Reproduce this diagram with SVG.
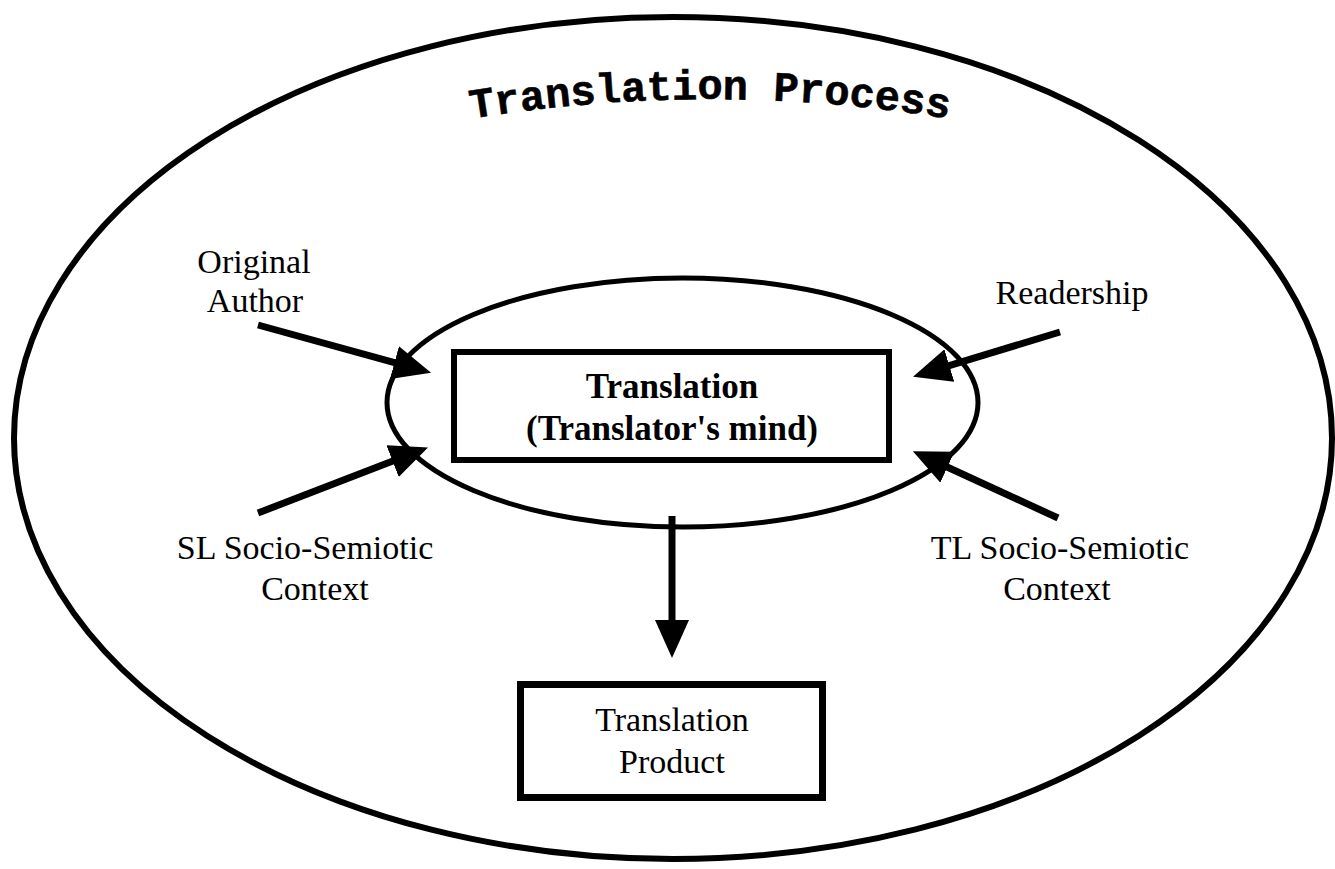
<svg xmlns="http://www.w3.org/2000/svg" width="1335" height="869" viewBox="0 0 1335 869">
<style>
.lbl{font-family:"Liberation Serif","Times New Roman",serif;font-size:34px;fill:#000;text-anchor:middle}
.b{font-weight:bold;font-size:35px}
.ttl{font-family:"Liberation Mono","Courier New",monospace;font-size:42px;font-weight:bold;fill:#000;stroke:#000;stroke-width:0.6}
.ln{fill:none;stroke:#000}
.arr{stroke:#000;stroke-width:7;fill:none}
</style>
<defs>
<marker id="ah" viewBox="0 0 38 34" refX="1" refY="17" markerWidth="38" markerHeight="34" markerUnits="userSpaceOnUse" orient="auto"><path d="M0,0 L38,17 L0,34 z" fill="#000"/></marker>
<path id="tp" d="M430,126 A1480,1480 0 0 1 990,126"/>
</defs>
<rect width="1335" height="869" fill="#fff"/>
<g id="process">
<ellipse class="ln" cx="673" cy="438" rx="659" ry="421" stroke-width="6"/>
<text class="ttl"><textPath href="#tp" startOffset="50%" text-anchor="middle">Translation Process</textPath></text>
</g>
<g id="mind-ellipse">
<ellipse class="ln" cx="682.5" cy="402.5" rx="295.5" ry="124.5" stroke-width="5"/>
</g>
<g id="translation">
<rect class="ln" x="454" y="352" width="435" height="108" stroke-width="6"/>
<text class="lbl b" x="672" y="398">Translation</text>
<text class="lbl b" x="672" y="440">(Translator's mind)</text>
</g>
<g id="product">
<rect class="ln" x="520.5" y="684.5" width="302" height="113" stroke-width="7"/>
<text class="lbl" x="672" y="731">Translation</text>
<text class="lbl" x="672" y="773">Product</text>
</g>
<g id="author"><text class="lbl" x="254" y="273">Original</text><text class="lbl" x="255" y="312">Author</text></g>
<g id="readership"><text class="lbl" x="1072" y="304">Readership</text></g>
<g id="sl"><text class="lbl" x="305" y="559">SL Socio-Semiotic</text><text class="lbl" x="315" y="600">Context</text></g>
<g id="tl"><text class="lbl" x="1060" y="559">TL Socio-Semiotic</text><text class="lbl" x="1057" y="600">Context</text></g>
<g id="connectors">
<line class="arr" x1="258" y1="325" x2="395.4" y2="362.9" marker-end="url(#ah)"/>
<line class="arr" x1="258" y1="513" x2="393.5" y2="460.7" marker-end="url(#ah)"/>
<line class="arr" x1="1060" y1="332" x2="948.4" y2="365.9" marker-end="url(#ah)"/>
<line class="arr" x1="1058" y1="518" x2="946.5" y2="466.8" marker-end="url(#ah)"/>
<line class="arr" x1="672" y1="516" x2="672" y2="621" marker-end="url(#ah)"/>
</g>
</svg>
